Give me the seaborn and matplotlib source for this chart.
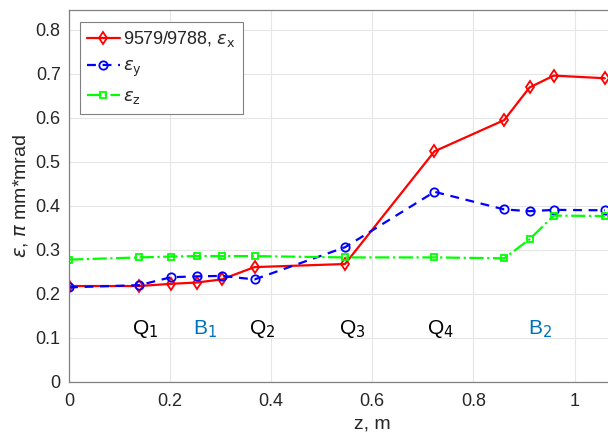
import numpy as np
import pandas as pd
import matplotlib
matplotlib.use("Agg")
import matplotlib.pyplot as plt
import seaborn as sns

# Data
z = [0.0, 0.139, 0.202, 0.253, 0.302, 0.367, 0.546, 0.723, 0.861, 0.911, 0.959, 1.060]
eps_x = [0.218, 0.218, 0.223, 0.226, 0.233, 0.261, 0.268, 0.524, 0.595, 0.669, 0.696, 0.690]
eps_y = [0.215, 0.220, 0.238, 0.240, 0.241, 0.233, 0.306, 0.432, 0.392, 0.388, 0.391, 0.390]
eps_z = [0.278, 0.283, 0.285, 0.286, 0.286, 0.286, 0.283, 0.283, 0.281, 0.324, 0.378, 0.377]

labels = ['9579/9788, $\\epsilon_{\\rm x}$', '$\\epsilon_{\\rm y}$', '$\\epsilon_{\\rm z}$']
element_names = ['Q$_1$', 'B$_1$', 'Q$_2$', 'Q$_3$', 'Q$_4$', 'B$_2$']
element_z = [0.150, 0.269, 0.382, 0.560, 0.734, 0.932]
element_colors = ['black', '#0072bd', 'black', 'black', 'black', '#0072bd']

sns.set_theme(style='whitegrid')
plt.rcParams['font.family'] = ['Liberation Sans', 'DejaVu Sans']
plt.rcParams['mathtext.fontset'] = 'dejavusans'

fig = plt.figure(figsize=(6.08, 4.43), dpi=100)
ax = fig.add_axes([69 / 608, 61 / 443, 1.2 * 505.5 / 608, 372 / 443])

df = pd.DataFrame({'z': z, 'ex': eps_x, 'ey': eps_y, 'ez': eps_z})

sns.lineplot(data=df, x='z', y='ex', ax=ax, sort=False, color='#ff0000', linewidth=1.6,
             marker='d', markersize=6, markerfacecolor='none', markeredgecolor='#ff0000',
             markeredgewidth=1.3, label=labels[0])
sns.lineplot(data=df, x='z', y='ey', ax=ax, sort=False, color='#0000ff', linewidth=1.6,
             linestyle=(0, (4, 3)), marker='o', markersize=6, markerfacecolor='none',
             markeredgecolor='#0000ff', markeredgewidth=1.3, label=labels[1])
sns.lineplot(data=df, x='z', y='ez', ax=ax, sort=False, color='#00ff00', linewidth=1.6,
             linestyle='-.', marker='s', markersize=5, markerfacecolor='none',
             markeredgecolor='#00ff00', markeredgewidth=1.3, label=labels[2])

for name, zz, c in zip(element_names, element_z, element_colors):
    ax.text(zz, 0.095, name, color=c, fontsize=15, ha='center', va='bottom')

ax.set_xlim(0, 1.2)
ax.set_ylim(0, 0.845)
ax.set_xticks(np.arange(0, 1.01, 0.2))
ax.set_xticklabels(['0', '0.2', '0.4', '0.6', '0.8', '1'])
ax.set_yticks(np.arange(0, 0.81, 0.1))
ax.set_yticklabels(['0', '0.1', '0.2', '0.3', '0.4', '0.5', '0.6', '0.7', '0.8'])
ax.tick_params(axis='both', labelsize=13, colors='#262626', direction='in', length=4,
               width=0.8, pad=6)
ax.tick_params(axis='x', pad=8)
ax.grid(True, color='#e6e6e6', linewidth=0.8)
for s in ax.spines.values():
    s.set_color('#808080')
    s.set_linewidth(0.9)
ax.set_facecolor('white')

ax.set_xlabel('z, m', fontsize=14, color='#262626', labelpad=4)
ax.set_ylabel('$\\epsilon$, $\\pi$ mm*mrad', fontsize=14, color='#262626', labelpad=4)

leg = ax.legend(loc='upper left', bbox_to_anchor=(11 / (1.2 * 505.5), 1 - 12 / 372),
                fontsize=13, frameon=True, fancybox=False, edgecolor='#808080',
                framealpha=1, handlelength=1.8, borderpad=0.4, labelspacing=0.5,
                handletextpad=0.2, borderaxespad=0)
leg.get_frame().set_linewidth(0.8)

fig.savefig('out.png', dpi=100)
